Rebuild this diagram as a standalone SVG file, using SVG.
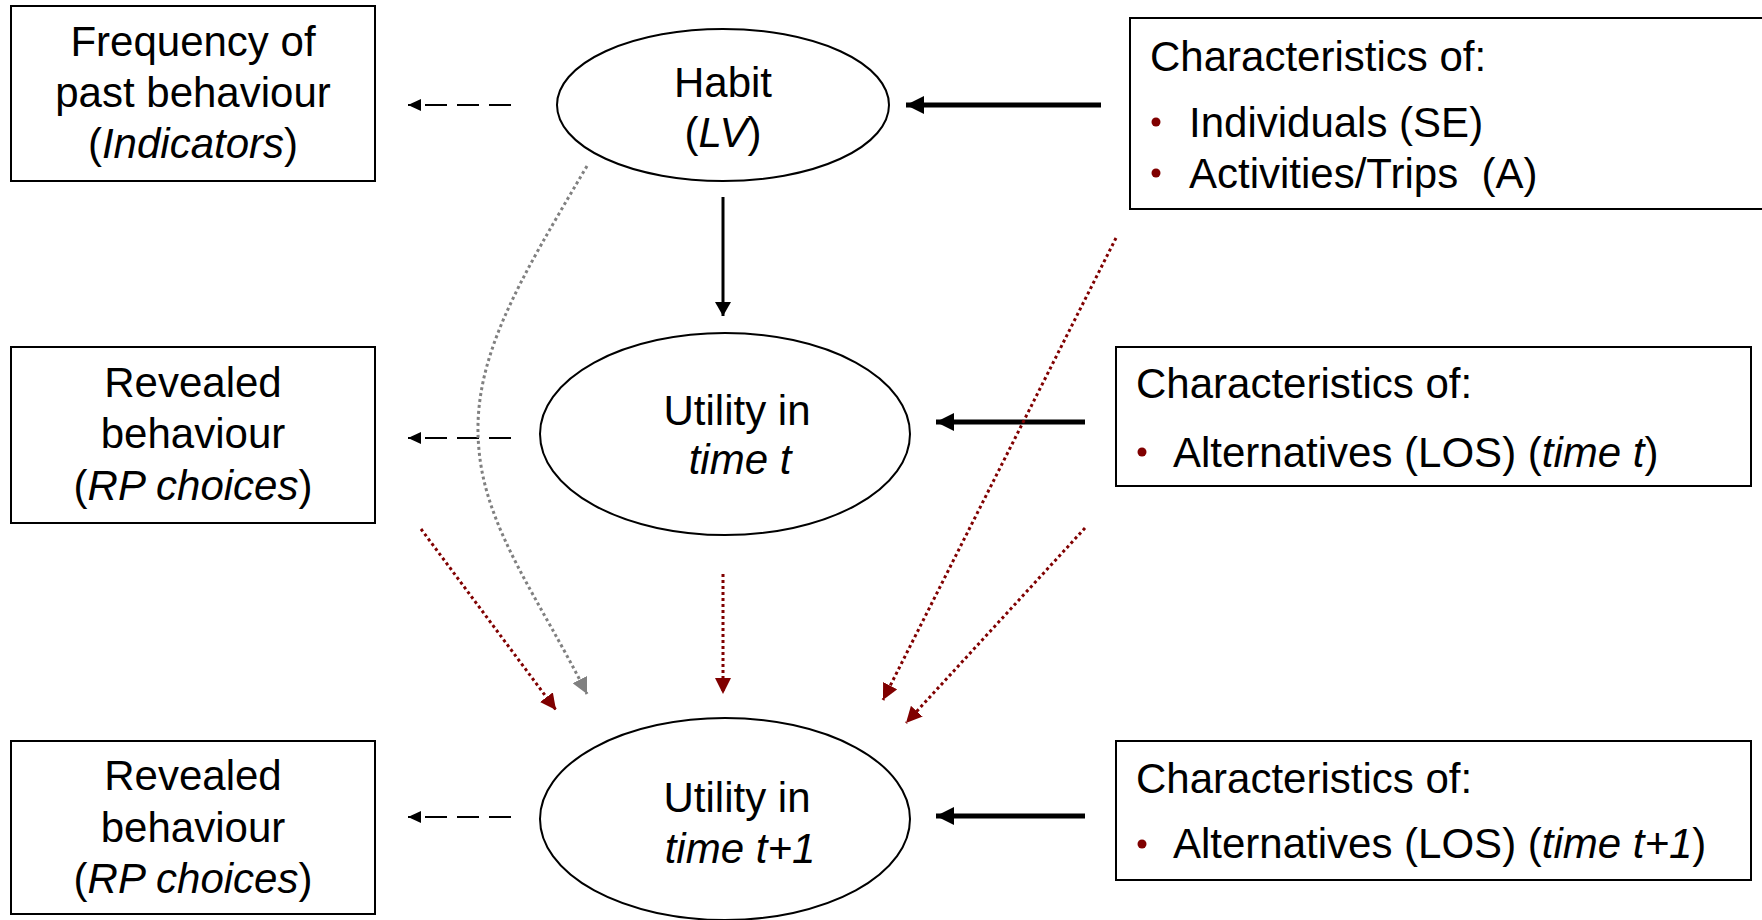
<svg xmlns="http://www.w3.org/2000/svg" width="1762" height="920" viewBox="0 0 1762 920">
<style>
text{font-family:"Liberation Sans",Arial,sans-serif;font-size:42px;fill:#000}
.c{text-anchor:middle}
.i{font-style:italic}
.box{fill:#fff;stroke:#000;stroke-width:2}
.ell{fill:#fff;stroke:#000;stroke-width:2}
.dash{stroke:#000;stroke-width:2;stroke-dasharray:22 10;fill:none}
.thick{stroke:#000;stroke-width:5;fill:none}
.solid{stroke:#000;stroke-width:3;fill:none}
.red{stroke:#800000;stroke-width:3;stroke-dasharray:3 3;fill:none}
.grey{stroke:#808080;stroke-width:3;stroke-dasharray:3 3;fill:none}
.bul{fill:#800000}
</style>
<defs>
<marker id="mSmall" markerUnits="userSpaceOnUse" markerWidth="14" markerHeight="12" refX="13" refY="6" orient="auto"><path d="M0,0 L13,6 L0,12 Z" fill="#000"/></marker>
<marker id="mThick" markerUnits="userSpaceOnUse" markerWidth="19" markerHeight="18" refX="18" refY="9" orient="auto"><path d="M0,0 L18,9 L0,18 Z" fill="#000"/></marker>
<marker id="mSolid" markerUnits="userSpaceOnUse" markerWidth="15" markerHeight="16" refX="14" refY="8" orient="auto"><path d="M0,0 L14,8 L0,16 Z" fill="#000"/></marker>
<marker id="mRed" markerUnits="userSpaceOnUse" markerWidth="17" markerHeight="16" refX="16" refY="8" orient="auto"><path d="M0,0 L16,8 L0,16 Z" fill="#800000"/></marker>
<marker id="mGrey" markerUnits="userSpaceOnUse" markerWidth="17" markerHeight="16" refX="16" refY="8" orient="auto"><path d="M0,0 L16,8 L0,16 Z" fill="#808080"/></marker>
</defs>

<g id="connectors">
<line class="dash" x1="511" y1="105" x2="408" y2="105" marker-end="url(#mSmall)"/>
<line class="dash" x1="511" y1="438" x2="408" y2="438" marker-end="url(#mSmall)"/>
<line class="dash" x1="511" y1="817" x2="408" y2="817" marker-end="url(#mSmall)"/>
<line class="thick" x1="1101" y1="105" x2="906" y2="105" marker-end="url(#mThick)"/>
<line class="thick" x1="1085" y1="422" x2="936" y2="422" marker-end="url(#mThick)"/>
<line class="thick" x1="1085" y1="816" x2="936" y2="816" marker-end="url(#mThick)"/>
<line class="solid" x1="723" y1="197" x2="723" y2="316" marker-end="url(#mSolid)"/>
<path class="grey" d="M587,166 C520,280 470,360 479,450 C486,530 540,600 587,694" marker-end="url(#mGrey)"/>
<line class="red" x1="421" y1="529" x2="556" y2="710" marker-end="url(#mRed)"/>
<line class="red" x1="723" y1="574" x2="723" y2="694" marker-end="url(#mRed)"/>
<line class="red" x1="1116" y1="238" x2="883" y2="700" marker-end="url(#mRed)"/>
<line class="red" x1="1085" y1="528" x2="906" y2="723" marker-end="url(#mRed)"/>
</g>

<g id="freq">
<rect class="box" x="11" y="6" width="364" height="175"/>
<text class="c" x="193" y="56">Frequency of</text>
<text class="c" x="193" y="107">past behaviour</text>
<text class="c" x="193" y="158">(<tspan class="i">Indicators</tspan>)</text>
</g>

<g id="rp1">
<rect class="box" x="11" y="347" width="364" height="176"/>
<text class="c" x="193" y="397">Revealed</text>
<text class="c" x="193" y="448">behaviour</text>
<text class="c" x="193" y="500">(<tspan class="i">RP choices</tspan>)</text>
</g>

<g id="rp2">
<rect class="box" x="11" y="741" width="364" height="173"/>
<text class="c" x="193" y="790">Revealed</text>
<text class="c" x="193" y="842">behaviour</text>
<text class="c" x="193" y="893">(<tspan class="i">RP choices</tspan>)</text>
</g>

<g id="habit">
<ellipse class="ell" cx="723" cy="105" rx="166" ry="76"/>
<text class="c" x="723" y="97">Habit</text>
<text class="c" x="723" y="147">(<tspan class="i">LV</tspan>)</text>
</g>

<g id="ut">
<ellipse class="ell" cx="725" cy="434" rx="185" ry="101"/>
<text class="c" x="737" y="425">Utility in</text>
<text class="c i" x="740" y="474">time t</text>
</g>

<g id="ut1">
<ellipse class="ell" cx="725" cy="819" rx="185" ry="101"/>
<text class="c" x="737" y="812">Utility in</text>
<text class="c i" x="740" y="863">time t+1</text>
</g>

<g id="charA">
<rect class="box" x="1130" y="18" width="650" height="191"/>
<text x="1150" y="71">Characteristics of:</text>
<circle class="bul" cx="1156" cy="122" r="4.5"/>
<text x="1189" y="137">Individuals (SE)</text>
<circle class="bul" cx="1156" cy="173" r="4.5"/>
<text x="1189" y="188" xml:space="preserve">Activities/Trips  (A)</text>
</g>

<g id="charB">
<rect class="box" x="1116" y="347" width="635" height="139"/>
<text x="1136" y="398">Characteristics of:</text>
<circle class="bul" cx="1142" cy="452" r="4.5"/>
<text x="1173" y="467">Alternatives (LOS) (<tspan class="i">time t</tspan>)</text>
</g>

<g id="charC">
<rect class="box" x="1116" y="741" width="635" height="139"/>
<text x="1136" y="793">Characteristics of:</text>
<circle class="bul" cx="1142" cy="844" r="4.5"/>
<text x="1173" y="858">Alternatives (LOS) (<tspan class="i">time t+1</tspan>)</text>
</g>
</svg>
